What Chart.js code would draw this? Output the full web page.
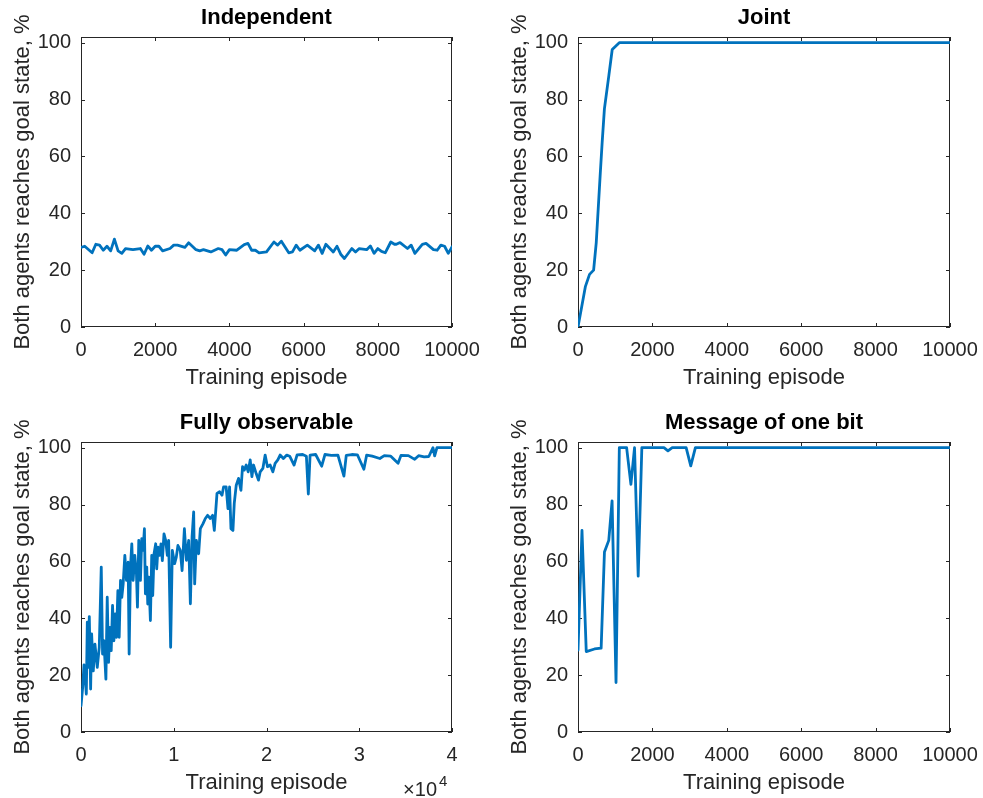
<!DOCTYPE html>
<html>
<head>
<meta charset="utf-8">
<script src="https://cdn.jsdelivr.net/npm/chart.js@4.4.0/dist/chart.umd.min.js"></script>
<style>
  html, body { margin: 0; padding: 0; background: #fff; overflow: hidden; }
  #wrap { position: relative; width: 983px; height: 798px; overflow: hidden; }
  canvas { position: absolute; }
</style>
</head>
<body>
<div id="wrap">
  <canvas id="chartIndependent" width="490" height="399" style="left:0px;top:0px;width:490px;height:399px"></canvas>
  <canvas id="chartJoint" width="486" height="399" style="left:497px;top:0px;width:486px;height:399px"></canvas>
  <canvas id="chartFully" width="490" height="399" style="left:0px;top:405px;width:490px;height:399px"></canvas>
  <canvas id="chartMessage" width="486" height="399" style="left:497px;top:405px;width:486px;height:399px"></canvas>
</div>
<script>
// ---- data ----
const indepEpisodes = [0, 100, 300, 400, 500, 600, 700, 800, 900, 1000, 1100, 1200, 1400, 1600, 1700, 1800, 1900, 2000, 2100, 2200, 2400, 2500, 2600, 2800, 2900, 3100, 3200, 3300, 3500, 3700, 3800, 3900, 4000, 4200, 4400, 4500, 4600, 4700, 4800, 5000, 5200, 5300, 5400, 5600, 5700, 5800, 5900, 6100, 6300, 6400, 6500, 6600, 6800, 6900, 7000, 7100, 7300, 7400, 7500, 7700, 7800, 7900, 8000, 8100, 8200, 8350, 8450, 8500, 8600, 8800, 8900, 9000, 9200, 9300, 9500, 9600, 9700, 9800, 9900, 10000];
const indepSuccess = [28.0, 28.4, 26.1, 29.1, 28.8, 27.0, 28.4, 26.8, 30.9, 26.8, 25.9, 27.6, 27.2, 27.6, 25.6, 28.5, 27.0, 28.4, 28.4, 26.8, 27.6, 28.8, 28.8, 28.0, 29.6, 27.2, 26.8, 27.2, 26.4, 27.6, 27.2, 25.3, 27.2, 27.0, 29.0, 29.4, 27.0, 27.0, 26.1, 26.4, 29.9, 28.8, 30.2, 26.1, 26.4, 28.8, 27.0, 28.8, 26.8, 28.8, 25.9, 29.1, 26.4, 28.4, 25.6, 24.1, 27.6, 26.4, 27.6, 27.2, 28.5, 25.9, 27.6, 26.6, 26.1, 29.9, 29.1, 29.1, 29.7, 27.6, 28.8, 25.9, 29.1, 29.4, 27.2, 27.0, 28.8, 28.4, 25.9, 28.2];

const jointEpisodes = [0, 200, 310, 420, 490, 600, 650, 710, 830, 920, 1110, 10000];
const jointSuccess = [0, 14.3, 18.5, 20, 29.6, 54.3, 65, 76.7, 88.5, 97.6, 100, 100];

const fullyEpisodes = [0, 179, 322, 430, 573, 680, 788, 895, 1038, 1145, 1325, 1504, 1754, 1969, 2184, 2327, 2470, 2685, 2828, 2971, 3115, 3258, 3401, 3544, 3688, 3830, 3974, 4117, 4260, 4400, 4547, 4726, 4905, 5084, 5191, 5334, 5477, 5621, 5800, 5979, 6086, 6229, 6408, 6551, 6690, 6838, 6945, 7088, 7196, 7303, 7482, 7625, 7733, 7876, 8055, 8162, 8305, 8480, 8627, 8770, 8949, 9128, 9307, 9450, 9665, 9844, 10095, 10274, 10453, 10704, 10900, 11148, 11363, 11610, 11793, 11975, 12148, 12255, 12438, 12685, 12868, 13158, 13405, 13653, 13943, 14190, 14373, 14663, 14943, 15201, 15373, 15650, 15846, 16018, 16168, 16383, 16523, 16738, 16985, 17243, 17415, 17600, 17813, 18028, 18243, 18425, 18598, 18888, 19135, 19318, 19608, 19855, 20103, 20393, 20683, 20930, 21220, 21468, 21823, 22188, 22500, 22973, 23300, 23900, 24300, 24510, 24700, 25300, 25950, 26300, 27000, 27700, 28348, 28600, 29200, 29800, 30498, 30800, 31400, 32218, 32700, 33400, 34185, 34500, 35300, 35980, 36400, 37000, 37500, 37953, 38130, 38378, 40000];
const fullySuccess = [9.2, 15.6, 23.6, 20.4, 13.3, 38.6, 22.7, 40.6, 15.1, 34.5, 21.5, 30.9, 22.7, 29.8, 58.0, 27.4, 32.1, 18.6, 47.4, 24.5, 36.8, 28.6, 44.5, 32.1, 41.5, 33.3, 49.7, 33.3, 53.3, 47.4, 52.1, 62.1, 53.3, 59.7, 27.4, 58.0, 66.2, 53.3, 62.1, 55.6, 43.9, 67.4, 53.3, 68.0, 63.9, 71.5, 48.6, 58.0, 45.0, 54.5, 39.2, 62.1, 48.0, 62.7, 66.2, 57.4, 65.0, 62.1, 66.2, 60.3, 69.7, 67.4, 62.1, 67.4, 29.8, 63.9, 59.2, 61.5, 65.6, 63.9, 56.8, 71.5, 60.4, 67.4, 45.1, 68.6, 77.4, 52.1, 67.4, 62.7, 71.5, 73.3, 75.1, 76.2, 75.1, 76.2, 70.9, 83.9, 84.5, 83.3, 86.2, 86.2, 78.6, 86.2, 71.5, 70.9, 80.4, 86.8, 89.2, 85.0, 93.3, 92.1, 93.9, 91.5, 95.7, 89.8, 93.9, 90.9, 88.6, 91.5, 92.7, 97.4, 93.3, 93.9, 91.5, 94.5, 95.7, 97.4, 96.2, 97.4, 97.0, 93.9, 97.5, 97.6, 97.0, 83.7, 97.4, 97.6, 93.5, 97.6, 97.3, 97.4, 90.0, 97.3, 97.6, 97.5, 92.4, 97.4, 97.0, 96.2, 97.2, 97.0, 94.5, 97.3, 97.2, 95.9, 97.2, 96.8, 96.9, 100, 97.1, 100, 100];

const messageEpisodes = [0, 107, 222, 444, 622, 711, 827, 916, 1022, 1111, 1307, 1422, 1520, 1618, 1716, 2311, 2418, 2533, 2907, 3031, 3156, 10000];
const messageSuccess = [28.8, 70.9, 28.3, 29.2, 29.5, 63.3, 67.4, 81.3, 17.4, 100, 100, 87.1, 100, 54.8, 100, 100, 98.9, 100, 100, 93.6, 100, 100];

const yTicks = [0, 20, 40, 60, 80, 100];
const xTicksShort = [0, 2000, 4000, 6000, 8000, 10000];
const xTicksLong = [0, 10000, 20000, 30000, 40000];

const BLUE = "#0072BD";
const AXIS = "#262626";
const FONT = "'Liberation Sans', Arial, Helvetica, sans-serif";

// matlab style box with inward ticks on all four sides
const boxTicks = {
  id: "boxTicks",
  beforeDatasetsDraw(chart) {
    const { ctx, chartArea: a, scales: { x, y } } = chart;
    const L = 4;
    ctx.save();
    ctx.strokeStyle = AXIS;
    ctx.lineWidth = 1;
    ctx.beginPath();
    x.ticks.forEach((t) => {
      const px = Math.round(x.getPixelForValue(t.value)) + 0.5;
      ctx.moveTo(px, a.bottom); ctx.lineTo(px, a.bottom - L);
      ctx.moveTo(px, a.top); ctx.lineTo(px, a.top + L);
    });
    y.ticks.forEach((t) => {
      const py = Math.round(y.getPixelForValue(t.value)) + 0.5;
      ctx.moveTo(a.left, py); ctx.lineTo(a.left + L, py);
      ctx.moveTo(a.right, py); ctx.lineTo(a.right - L, py);
    });
    ctx.stroke();
    ctx.strokeRect(Math.round(a.left) + 0.5, Math.round(a.top) + 0.5,
      Math.round(a.width) - 1, Math.round(a.height) - 1);
    ctx.restore();
  },
};

// the x10^4 multiplier under the long axis
const expLabel = {
  id: "expLabel",
  afterDraw(chart) {
    const { ctx } = chart;
    const x = chart.scales.x;
    ctx.save();
    ctx.fillStyle = AXIS;
    ctx.textBaseline = "alphabetic";
    ctx.textAlign = "right";
    ctx.font = `20px ${FONT}`;
    ctx.fillText("\u00d710", x.right - 15, x.bottom - 8);
    ctx.textAlign = "left";
    ctx.font = `15px ${FONT}`;
    ctx.fillText("4", x.right - 13, x.bottom - 18);
    ctx.restore();
  },
};

const makeChart = (id, title, episodes, values, xMax, xTicks, yAxisWidth, padRight, tickLabel, extra) =>
  new Chart(document.getElementById(id), {
    type: "line",
    data: {
      datasets: [{
        data: episodes.map((e, i) => ({ x: e, y: values[i] })),
        borderColor: BLUE,
        borderWidth: 2.8,
        borderJoinStyle: "round",
        borderCapStyle: "round",
        pointRadius: 0,
        tension: 0,
        fill: false,
      }],
    },
    options: {
      responsive: false,
      animation: false,
      events: [],
      layout: { padding: { left: 0, right: padRight, top: 0, bottom: 0 } },
      plugins: {
        legend: { display: false },
        tooltip: { enabled: false },
        title: {
          display: true,
          fullSize: false,
          text: title,
          color: "#000",
          font: { family: FONT, size: 22, weight: "bold" },
          padding: { top: 5, bottom: 5.6 },
        },
      },
      scales: {
        x: {
          type: "linear",
          min: 0,
          max: xMax,
          grid: { display: false, drawTicks: false },
          border: { display: false },
          afterBuildTicks: (s) => { s.ticks = xTicks.map((v) => ({ value: v })); },
          afterFit: (s) => { s.height = 72; s.paddingLeft = 0; s.paddingRight = 0; },
          ticks: {
            color: AXIS,
            font: { family: FONT, size: 20 },
            padding: 11,
            maxRotation: 0,
            autoSkip: false,
            callback: tickLabel,
          },
          title: {
            display: true,
            text: "Training episode",
            color: AXIS,
            font: { family: FONT, size: 22 },
            padding: { top: 0, bottom: 7.4 },
          },
        },
        y: {
          min: 0,
          max: 102,
          grid: { display: false, drawTicks: false },
          border: { display: false },
          afterBuildTicks: (s) => { s.ticks = yTicks.map((v) => ({ value: v })); },
          afterFit: (s) => { s.width = yAxisWidth; },
          ticks: {
            color: AXIS,
            font: { family: FONT, size: 20 },
            padding: 10,
          },
          title: {
            display: true,
            text: "Both agents reaches goal state, %",
            color: AXIS,
            font: { family: FONT, size: 22 },
            padding: { top: 10, bottom: 0 },
          },
        },
      },
    },
    plugins: [boxTicks, ...(extra || [])],
  });

makeChart("chartIndependent", "Independent", indepEpisodes, indepSuccess, 10000, xTicksShort, 81, 38, (v) => v);
makeChart("chartJoint", "Joint", jointEpisodes, jointSuccess, 10000, xTicksShort, 81, 33, (v) => v);
makeChart("chartFully", "Fully observable", fullyEpisodes, fullySuccess, 40000, xTicksLong, 81, 38, (v) => v / 10000, [expLabel]);
makeChart("chartMessage", "Message of one bit", messageEpisodes, messageSuccess, 10000, xTicksShort, 81, 33, (v) => v);
</script>
</body>
</html>
